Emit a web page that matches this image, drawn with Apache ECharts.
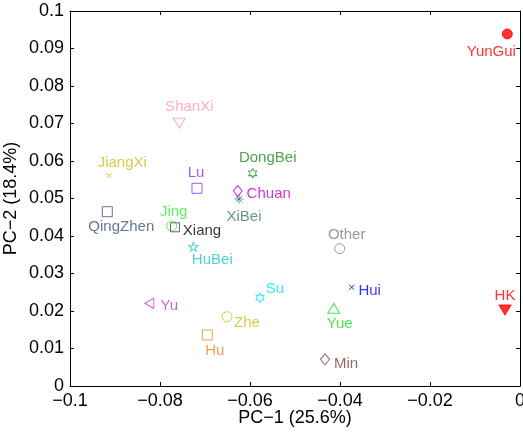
<!DOCTYPE html>
<html>
<head>
<meta charset="utf-8">
<script src="https://cdn.jsdelivr.net/npm/echarts@6/dist/echarts.min.js"></script>
<style>
html,body{margin:0;padding:0;background:#fff;}
#c{width:523px;height:433px;}
</style>
</head>
<body>
<div id="c"></div>
<script>
// ---- data ----
const regions = ['YunGui','HK','Other','Hui','Yue','Min','Su','Zhe','Hu','Yu','HuBei','ShanXi','JiangXi','DongBei','Lu','Chuan','XiBei','QingZhen','Jing','Xiang'];
const pc1 = [-0.00282,-0.00333,-0.04007,-0.0374,-0.0414,-0.04333,-0.05778,-0.06511,-0.06949,-0.08238,-0.0726,-0.07571,-0.09127,-0.0594,-0.07178,-0.06273,-0.06244,-0.09171,-0.0774,-0.07667];
const pc2 = [0.09387,0.02027,0.03661,0.02632,0.02072,0.00712,0.02355,0.01848,0.0136,0.02205,0.03715,0.07005,0.05608,0.05672,0.05272,0.052,0.04987,0.04648,0.04267,0.04232];
const xTicks = [-0.1,-0.08,-0.06,-0.04,-0.02,0];
const yTicks = [0,0.01,0.02,0.03,0.04,0.05,0.06,0.07,0.08,0.09,0.1];

// ---- styles ----
const HEX = 'path://M10,0L7.115,5L1.34,5L4.23,10L1.34,15L7.115,15L10,20L12.885,15L18.66,15L15.77,10L18.66,5L12.885,5Z';
const PENT = 'path://M10,0L7.755,6.91L0.489,6.91L6.367,11.18L4.122,18.09L10,13.82L15.878,18.09L13.633,11.18L19.511,6.91L12.245,6.91Z';
const XMARK = 'path://M0,0L10,10M10,0L0,10';
const AST = 'path://M5,0L5,10M0,5L10,5M1.46,1.46L8.54,8.54M8.54,1.46L1.46,8.54';
const DOWN = 'path://M0,0L10,0L5,8.66Z';
const LEFT = 'path://M8.66,0L8.66,10L0,5Z';
const styles = {
  YunGui:  {c:'#ff0000', s:'circle',   z:10,      fill:true,  off:[-16,18]},
  HK:      {c:'#ff0000', s:DOWN,       z:[12,10], fill:true,  off:[0,-14]},
  Other:   {c:'#808080', s:'circle',   z:10,      off:[7,-14]},
  Hui:     {c:'#0000ff', s:XMARK,      z:5,       off:[18,3.5]},
  Yue:     {c:'#22dd22', s:'triangle', z:[12,10], off:[6,16]},
  Min:     {c:'#7f3f3f', s:'diamond',  z:[9,11],  off:[21,5]},
  Su:      {c:'#00e5ff', s:HEX,        z:[8,9.2], off:[15,-9]},
  Zhe:     {c:'#c8c020', s:'circle',   z:10,      off:[20,6]},
  Hu:      {c:'#ee8822', s:'rect',     z:10,      off:[7.5,16]},
  Yu:      {c:'#cc33cc', s:LEFT,       z:[9,10],  off:[20,3]},
  HuBei:   {c:'#22c8c8', s:PENT,       z:[9.5,9], off:[19,13]},
  ShanXi:  {c:'#ff99bb', s:DOWN,       z:[12,10], off:[10,-16]},
  JiangXi: {c:'#c8c020', s:XMARK,      z:5,       off:[13,-13]},
  DongBei: {c:'#228b22', s:HEX,        z:[8,9.2], off:[15,-15]},
  Lu:      {c:'#7f2fff', s:'rect',     z:10,      off:[-1,-15]},
  Chuan:   {c:'#cc00cc', s:'diamond',  z:[9,11],  off:[31,3]},
  XiBei:   {c:'#3f7f5f', s:AST,        z:9,       off:[5,18]},
  QingZhen:{c:'#3f4f7f', s:'rect',     z:10,      off:[14,15.5]},
  Jing:    {c:'#33ee33', s:'circle',   z:10,      off:[2,-14]},
  Xiang:   {c:'#444444', s:'rect',     z:9,       off:[27,4], lc:'#000000'}
};

const data = regions.map((n,i)=>{
  const st = styles[n];
  return {
    name: n,
    value: [pc1[i], pc2[i]],
    symbol: st.s,
    symbolSize: st.z,
    itemStyle: st.fill ? {color: st.c, borderColor: st.c, borderWidth: 1}
                       : {color: 'none', borderColor: st.c, borderWidth: 1},
    label: {show: true, formatter: n, position: 'inside', offset: st.off,
            color: st.lc || st.c, fontSize: 15, fontFamily: 'Liberation Sans',
            align: 'center', verticalAlign: 'middle'}
  };
});

const fmt = v => String(+(+v).toFixed(3)).replace('-', '\u2212');
const axisCommon = {
  type: 'value',
  axisLine: {show: true, onZero: false, lineStyle: {color: '#000', width: 1}},
  axisTick: {show: true, inside: true, length: 4, lineStyle: {color: '#000'}},
  splitLine: {show: false}
};

const chart = echarts.init(document.getElementById('c'), null, {renderer: 'canvas'});
chart.setOption({
  animation: false,
  backgroundColor: '#fff',
  grid: {left: 70, right: 3, top: 11, bottom: 47, containLabel: false, outerBoundsMode: 'none'},
  xAxis: [
    Object.assign({}, axisCommon, {
      position: 'bottom', min: xTicks[0], max: xTicks[xTicks.length-1], interval: 0.02,
      name: 'PC\u22121 (25.6%)', nameLocation: 'middle', nameGap: 23, nameMoveOverlap: false,
      nameTextStyle: {color: '#000', fontSize: 18, fontFamily: 'Liberation Sans'},
      axisLabel: {color: '#000', fontSize: 18, fontFamily: 'Liberation Sans', margin: 6, formatter: fmt}
    }),
    Object.assign({}, axisCommon, {
      position: 'top', min: xTicks[0], max: xTicks[xTicks.length-1], interval: 0.02,
      axisLabel: {show: false}
    })
  ],
  yAxis: [
    Object.assign({}, axisCommon, {
      position: 'left', min: yTicks[0], max: yTicks[yTicks.length-1], interval: 0.01,
      name: 'PC\u22122 (18.4%)', nameLocation: 'middle', nameGap: 50, nameMoveOverlap: false,
      nameTextStyle: {color: '#000', fontSize: 18, fontFamily: 'Liberation Sans'},
      axisLabel: {color: '#000', fontSize: 18, fontFamily: 'Liberation Sans', margin: 6, formatter: fmt}
    }),
    Object.assign({}, axisCommon, {
      position: 'right', min: yTicks[0], max: yTicks[yTicks.length-1], interval: 0.01,
      axisLabel: {show: false}
    })
  ],
  series: [{
    type: 'scatter',
    xAxisIndex: 0, yAxisIndex: 0,
    data: data,
    clip: false,
    emphasis: {disabled: true},
    silent: true
  }]
});
</script>
</body>
</html>
